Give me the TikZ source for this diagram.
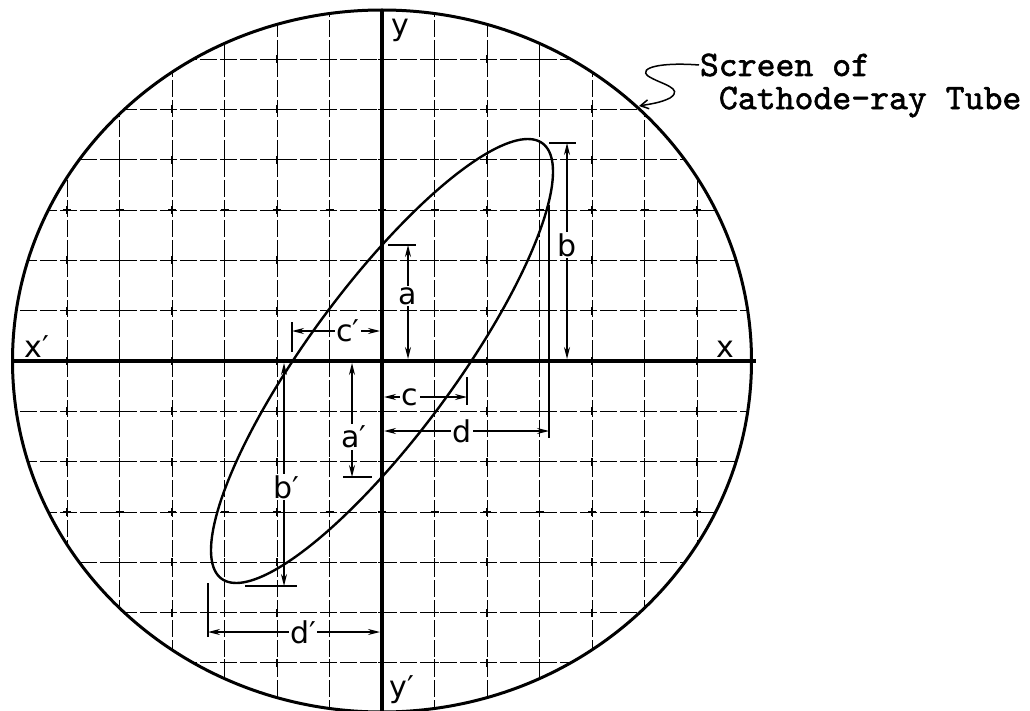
\documentclass[tikz,border=0pt]{standalone}
\usepackage{fontspec}
\usepackage{tikz}
\usetikzlibrary{arrows.meta}
\usetikzlibrary{positioning}
\newfontfamily\leroyfont{DejaVu Sans}
\newfontfamily\typefont[Extension=.otf,FakeBold=1.6]{lmmono10-regular}

\tikzset{
  gridln/.style={line width=0.8pt, dash pattern=on 17pt off 3pt},
  gridmark/.style={line width=1.3pt},
  axisln/.style={line width=4.2pt},
  dimln/.style={line width=1.4pt, {Stealth[length=12pt,width=6pt]}-{Stealth[length=12pt,width=6pt]}},
  extln/.style={line width=1.4pt},
  dimlbl/.style={fill=white, inner sep=1.5pt, font=\leroyfont\fontsize{30}{36}\selectfont},
  axlbl/.style={inner sep=0.75pt, font=\leroyfont\fontsize{30}{36}\selectfont},
  notelbl/.style={anchor=west, inner sep=0.75pt, font=\typefont\fontsize{36}{40}\selectfont},
}

\begin{document}
\begin{tikzpicture}[x=1pt,y=1pt,yscale=-1,xscale=1]
\useasboundingbox (0,0) rectangle (1030,711);

%Grid [clipped to the screen]
\begin{scope}
\clip (382,361) ellipse [x radius=369.5, y radius=351];
\foreach \i in {-6,...,6} {
  \draw [gridln] ({382+52.5*\i},0) -- ({382+52.5*\i},711);
  \draw [gridln] (0,{361+50.3*\i}) -- (1030,{361+50.3*\i});
}
\foreach \i in {-6,...,6} \foreach \j in {-6,...,6} {
  \draw [gridmark] ({382+52.5*\i-4},{361+50.3*\j}) -- ++(8,0) ({382+52.5*\i},{361+50.3*\j-4}) -- ++(0,8);
}
\end{scope}

%Shape: Ellipse [screen]
\draw [line width=3pt] (382,361) ellipse [x radius=369.5, y radius=351];
%Straight Lines [axes]
\draw [axisln] (382,10) -- (382,711);
\draw [line width=3.4pt] (12,361) -- (756,361);

%Curve [trace]
\draw [line width=2.4pt] plot [domain=0:360, samples=181] ({382+171*sin(\x)},{361-222*sin(\x+31.5)}) -- cycle;

%Straight Lines [extension lines]
\draw [extln] (388,245) -- (416,245);
\draw [extln] (343,477) -- (372,477);
\draw [extln] (549,143) -- (576,143);
\draw [extln] (245,586) -- (297,586);
\draw [extln] (467,377) -- (467,405);
\draw [extln] (292,322) -- (292,352);
\draw [extln] (549,205) -- (549,438);
\draw [extln] (208,583) -- (208,637);

%Straight Lines [dimensions]
\coordinate (aTop) at (408,245);   \coordinate (aBot) at (408,359);
\coordinate (apTop) at (352,363);  \coordinate (apBot) at (352,477);
\coordinate (bTop) at (567,143);   \coordinate (bBot) at (567,359);
\coordinate (bpTop) at (284,363);  \coordinate (bpBot) at (284,586);
\coordinate (cL) at (384,397);     \coordinate (cR) at (467,397);
\coordinate (cpL) at (292,331);    \coordinate (cpR) at (380,331);
\coordinate (dL) at (384,431);     \coordinate (dR) at (549,431);
\coordinate (dpL) at (208,632);    \coordinate (dpR) at (380,632);
\draw [dimln] (aTop) -- (aBot);
\draw [dimln] (apTop) -- (apBot);
\draw [dimln] (bTop) -- (bBot);
\draw [dimln] (bpTop) -- (bpBot);
\draw [dimln] (cL) -- (cR);
\draw [dimln] (cpL) -- (cpR);
\draw [dimln] (dL) -- (dR);
\draw [dimln] (dpL) -- (dpR);

% Text Node
\draw (408,296) node [dimlbl] (lblA) {a};
% Text Node
\draw (354,437) node [dimlbl] (lblAp) {a′};
% Text Node
\draw (567,245) node [dimlbl] (lblB) {b};
% Text Node
\draw (286,487) node [dimlbl] (lblBp) {b′};
% Text Node
\draw (410,397) node [dimlbl] (lblC) {c};
% Text Node
\draw (348,331) node [dimlbl] (lblCp) {c′};
% Text Node
\draw (462,431) node [dimlbl] (lblD) {d};
% Text Node
\draw (303,632) node [dimlbl] (lblDp) {d′};

% Text Node
\draw (400,30) node [axlbl] (lblY) {y};
% Text Node
\draw (402,690) node [axlbl] (lblYp) {y′};
% Text Node
\draw (37,347) node [axlbl] (lblXp) {x′};
% Text Node
\draw (725,349) node [axlbl] (lblX) {x};

% Text Node
\draw (699,65) node [notelbl] (scrA) {Screen of};
% Text Node
\draw (718,102) node [notelbl] (scrB) {Cathode-ray Tube};
%Curve [pointer]
\coordinate (scrTip) at (639,106);
\draw [line width=1.5pt, -{Straight Barb[length=8pt,width=9pt]}] (scrA.west) .. controls (660,62) and (638,68) .. (648,76) .. controls (660,84) and (685,88) .. (670,98) .. controls (660,103) and (650,104) .. (scrTip);

\end{tikzpicture}
\end{document}
